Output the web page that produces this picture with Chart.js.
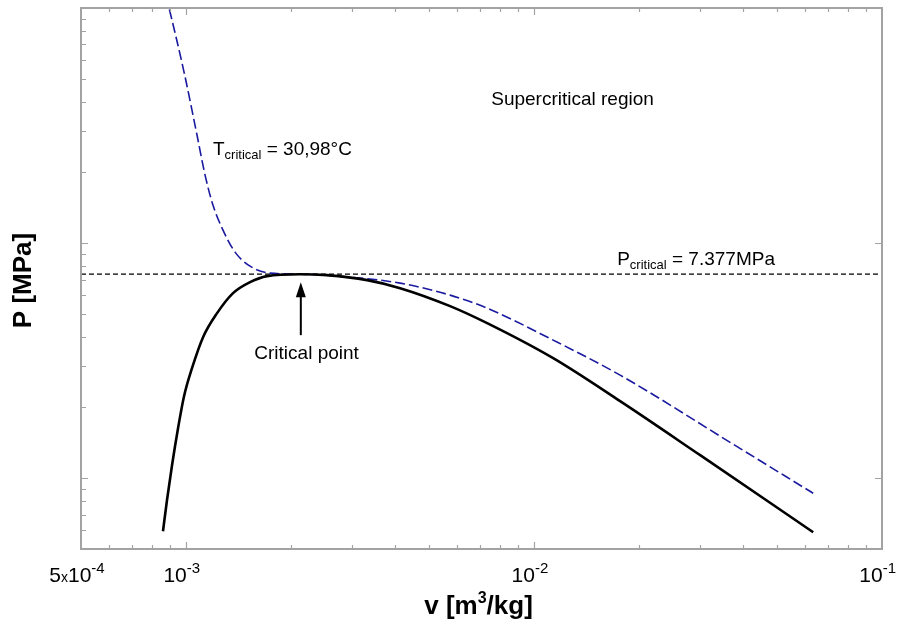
<!DOCTYPE html>
<html>
<head>
<meta charset="utf-8">
<script src="https://cdn.jsdelivr.net/npm/chart.js@4.4.1/dist/chart.umd.min.js"></script>
<style>
  html, body { margin: 0; padding: 0; background: #fff; }
</style>
</head>
<body>
<canvas id="myChart" width="897" height="629"></canvas>
<script>
// saturation dome (liquid + vapour line), v in m3/kg, P in MPa
const satV = [8.60e-4, 8.83e-4, 9.13e-4, 9.50e-4, 9.885e-4, 1.042e-3, 1.121e-3, 1.230e-3, 1.367e-3, 1.530e-3, 1.712e-3,
              2.13e-3, 2.545e-3, 3.317e-3, 4.128e-3, 5.745e-3, 7.34e-3, 1.136e-2, 1.769e-2, 3.004e-2, 6.344e-2];
const satP = [0.595, 0.806, 1.136, 1.632, 2.233, 2.938, 3.981, 5.037, 6.127, 6.823, 7.237,
              7.377, 7.307, 6.96, 6.434, 5.395, 4.566, 3.240, 2.127, 1.253, 0.589];

// critical isotherm T = 30,98 °C
const isoV = [8.77e-4, 8.95e-4, 9.885e-4, 1.077e-3, 1.136e-3, 1.197e-3, 1.279e-3, 1.385e-3, 1.530e-3, 1.746e-3,
              2.13e-3, 2.965e-3, 4.128e-3, 5.745e-3, 7.34e-3, 1.136e-2, 1.769e-2, 3.737e-2, 6.344e-2];
const isoP = [112.5, 100, 53.4, 28.82, 19.47, 14.51, 11.36, 9.157, 7.982, 7.452,
              7.377, 7.166, 6.756, 6.008, 5.288, 3.867, 2.744, 1.395, 0.863];

const pCrit = 7.377;
const vCrit = 2.14e-3;
const arrowFromP = 4.06;
const arrowToP = 6.82;

// axis ranges and ticks
const xMin = 5e-4, xMax = 0.1;
const yMin = 0.5, yMax = 100;
const xMajor = [1e-3, 1e-2];
const xMinor = [6e-4, 7e-4, 8e-4, 9e-4, 2e-3, 3e-3, 4e-3, 5e-3, 6e-3, 7e-3, 8e-3, 9e-3,
                2e-2, 3e-2, 4e-2, 5e-2, 6e-2, 7e-2, 8e-2, 9e-2];
const yMajor = [1, 10];
const yMinor = [0.6, 0.7, 0.8, 0.9, 2, 3, 4, 5, 6, 7, 8, 9, 20, 30, 40, 50, 60, 70, 80, 90];

const xTickValues = [5e-4, 1e-3, 1e-2, 1e-1];
const xTickMantissa = ['5', '', '', ''];
const xTickExponent = ['-4', '-3', '-2', '-1'];

const FONT = "'Liberation Sans', Arial, sans-serif";
const axisColor = '#a3a3a3';

function fontOf(p) {
  return (p.bold ? 'bold ' : '') + p.size + 'px ' + FONT;
}

// draws a run of text pieces (for sub/superscripts)
function drawParts(ctx, parts, x, y, align) {
  let w = 0;
  parts.forEach(p => {
    ctx.font = fontOf(p);
    p.w = ctx.measureText(p.t).width;
    w += p.w;
  });
  let cx = x;
  if (align === 'center') cx = x - w / 2;
  if (align === 'clampRight') cx = Math.min(x - w / 2, 896 - w);
  ctx.textAlign = 'left';
  ctx.textBaseline = 'alphabetic';
  parts.forEach(p => {
    ctx.font = fontOf(p);
    ctx.fillText(p.t, cx, y + (p.dy || 0));
    cx += p.w;
  });
}

const framePlugin = {
  id: 'frame',
  afterDatasetsDraw(chart) {
    const ctx = chart.ctx;
    const a = chart.chartArea;
    const xs = chart.scales.x, ys = chart.scales.y;
    ctx.save();

    // arrow to the critical point
    const ax = xs.getPixelForValue(vCrit);
    const ay1 = ys.getPixelForValue(arrowFromP);
    const ay2 = ys.getPixelForValue(arrowToP);
    ctx.strokeStyle = '#000';
    ctx.fillStyle = '#000';
    ctx.lineWidth = 2;
    ctx.beginPath();
    ctx.moveTo(ax, ay1);
    ctx.lineTo(ax, ay2 + 12);
    ctx.stroke();
    ctx.beginPath();
    ctx.moveTo(ax, ay2);
    ctx.lineTo(ax - 5, ay2 + 15);
    ctx.lineTo(ax + 5, ay2 + 15);
    ctx.closePath();
    ctx.fill();

    // frame
    ctx.strokeStyle = axisColor;
    ctx.lineWidth = 2;
    ctx.strokeRect(a.left, a.top, a.right - a.left, a.bottom - a.top);

    // inward ticks
    ctx.lineWidth = 1.2;
    ctx.beginPath();
    xMinor.forEach(v => {
      const px = Math.round(xs.getPixelForValue(v)) + 0.5;
      ctx.moveTo(px, a.bottom); ctx.lineTo(px, a.bottom - 4);
      ctx.moveTo(px, a.top); ctx.lineTo(px, a.top + 4);
    });
    xMajor.forEach(v => {
      const px = Math.round(xs.getPixelForValue(v)) + 0.5;
      ctx.moveTo(px, a.bottom); ctx.lineTo(px, a.bottom - 7);
      ctx.moveTo(px, a.top); ctx.lineTo(px, a.top + 7);
    });
    yMinor.forEach(v => {
      const py = Math.round(ys.getPixelForValue(v)) + 0.5;
      ctx.moveTo(a.left, py); ctx.lineTo(a.left + 5, py);
    });
    yMajor.forEach(v => {
      const py = Math.round(ys.getPixelForValue(v)) + 0.5;
      ctx.moveTo(a.left, py); ctx.lineTo(a.left + 7, py);
      ctx.moveTo(a.right, py); ctx.lineTo(a.right - 7, py);
    });
    ctx.stroke();

    // x tick labels
    ctx.fillStyle = '#000';
    xTickValues.forEach((v, i) => {
      const px = xs.getPixelForValue(v);
      const parts = [];
      if (xTickMantissa[i]) {
        parts.push({t: xTickMantissa[i], size: 21});
        parts.push({t: 'x', size: 14});
      }
      parts.push({t: '10', size: 21});
      parts.push({t: xTickExponent[i], size: 15, dy: -9});
      drawParts(ctx, parts, px - 4, 582, i === xTickValues.length - 1 ? 'clampRight' : 'center');
    });

    // axis titles
    drawParts(ctx, [
      {t: 'v [m', size: 26, bold: true},
      {t: '3', size: 16, bold: true, dy: -11},
      {t: '/kg]', size: 26, bold: true}
    ], (a.left + a.right) / 2 - 3, 614, 'center');

    ctx.save();
    ctx.translate(31, (a.top + a.bottom) / 2 + 2);
    ctx.rotate(-Math.PI / 2);
    drawParts(ctx, [{t: 'P [MPa]', size: 26, bold: true}], 0, 0, 'center');
    ctx.restore();

    // annotations
    drawParts(ctx, [{t: 'Supercritical region', size: 19}],
      xs.getPixelForValue(7.54e-3), ys.getPixelForValue(38.67), 'left');
    drawParts(ctx, [
      {t: 'T', size: 19},
      {t: 'critical', size: 13, dy: 4},
      {t: ' = 30,98°C', size: 19}
    ], xs.getPixelForValue(1.197e-3), ys.getPixelForValue(23.69), 'left');
    drawParts(ctx, [
      {t: 'P', size: 19},
      {t: 'critical', size: 13, dy: 4},
      {t: ' = 7.377MPa', size: 19}
    ], xs.getPixelForValue(1.735e-2), ys.getPixelForValue(8.06), 'left');
    drawParts(ctx, [{t: 'Critical point', size: 19}],
      xs.getPixelForValue(2.223e-3), ys.getPixelForValue(3.21), 'center');

    ctx.restore();
  }
};

const ctx = document.getElementById('myChart').getContext('2d');
const myChart = new Chart(ctx, {
  type: 'scatter',
  data: {
    datasets: [
      {
        label: 'Saturation line',
        data: satV.map((v, i) => ({x: v, y: satP[i]})),
        showLine: true,
        borderColor: '#000000',
        borderWidth: 2.6,
        pointRadius: 0,
        cubicInterpolationMode: 'monotone'
      },
      {
        label: 'Critical isotherm',
        data: isoV.map((v, i) => ({x: v, y: isoP[i]})),
        showLine: true,
        borderColor: '#1a1aa0',
        borderWidth: 1.6,
        borderDash: [10, 4],
        pointRadius: 0,
        cubicInterpolationMode: 'monotone'
      },
      {
        label: 'Critical pressure',
        data: [{x: xMin, y: pCrit}, {x: xMax, y: pCrit}],
        showLine: true,
        borderColor: '#000000',
        borderWidth: 1.2,
        borderDash: [5, 3],
        pointRadius: 0
      }
    ]
  },
  options: {
    responsive: false,
    animation: false,
    devicePixelRatio: 1,
    layout: { padding: { left: 81, right: 15, top: 8, bottom: 80 } },
    plugins: {
      legend: { display: false },
      tooltip: { enabled: false }
    },
    scales: {
      x: { type: 'logarithmic', min: xMin, max: xMax, display: false },
      y: { type: 'logarithmic', min: yMin, max: yMax, display: false }
    }
  },
  plugins: [framePlugin]
});
</script>
</body>
</html>
